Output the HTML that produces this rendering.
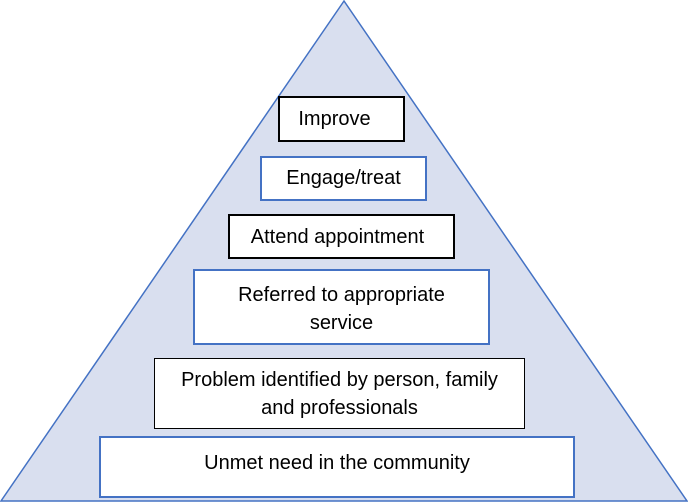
<!DOCTYPE html>
<html><head><style>
body{margin:0;width:688px;height:503px;overflow:hidden;background:#fff;font-family:"Liberation Sans",sans-serif;}
.b{position:absolute;background:#fff;box-sizing:border-box;font-size:20px;color:#000;text-align:center;line-height:28px;white-space:nowrap;}
.k{border:2px solid #000;}
.u{border:2px solid #4472c4;}
</style></head><body>
<svg width="688" height="503" style="position:absolute;left:0;top:0">
<polygon points="344,1 1,501 687,501" fill="#d9dfef" stroke="#4472c4" stroke-width="1.5"/>
</svg>
<div class="b k" style="left:278px;top:96px;width:127px;height:46px;padding-top:7px;padding-right:14px">Improve</div>
<div class="b u" style="left:260px;top:156px;width:167px;height:45px;padding-top:6px">Engage/treat</div>
<div class="b k" style="left:228px;top:214px;width:227px;height:45px;padding-top:7px;padding-right:8px">Attend appointment</div>
<div class="b u" style="left:193px;top:269px;width:297px;height:76px;padding-top:10px">Referred to appropriate<br>service</div>
<div class="b k" style="left:154px;top:358px;width:371px;height:71px;padding-top:7px;border-width:1px">Problem identified by person, family<br>and professionals</div>
<div class="b u" style="left:99px;top:436px;width:476px;height:62px;padding-top:11px">Unmet need in the community</div>
</body></html>
